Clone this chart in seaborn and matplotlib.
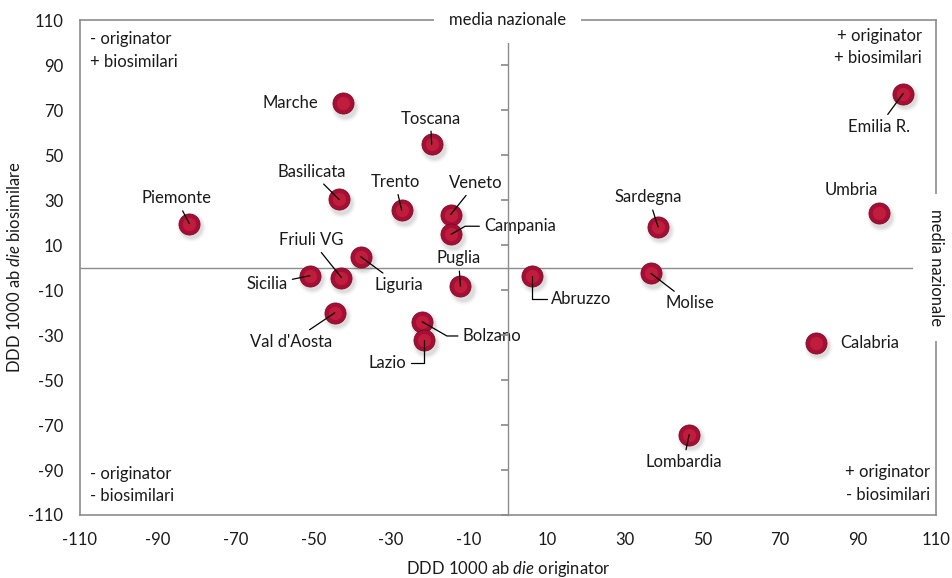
import numpy as np
import pandas as pd
import seaborn as sns
import matplotlib.pyplot as plt
import matplotlib.transforms as mtransforms

# regional values (DDD 1000 ab die, difference from national mean)
regions = ["Marche", "Toscana", "Basilicata", "Trento", "Veneto", "Campania",
           "Piemonte", "Liguria", "Friuli VG", "Sicilia", "Puglia", "Val d'Aosta",
           "Bolzano", "Lazio", "Abruzzo", "Molise", "Sardegna", "Emilia R.",
           "Umbria", "Calabria", "Lombardia"]
originator = [-42.5, -19.6, -43.4, -27.3, -14.7, -14.6, -81.9, -37.8, -42.8, -50.9,
              -12.2, -44.5, -22.0, -21.5, 6.3, 36.8, 38.6, 101.6, 95.4, 79.3, 46.6]
biosimilare = [73.1, 54.9, 30.3, 25.6, 23.6, 14.8, 19.6, 4.8, -4.4, -3.6,
               -8.2, -20.1, -24.1, -32.2, -3.6, -2.6, 18.1, 77.4, 24.1, -33.3, -74.3]

# where each label sits (data units) and how its leader line bends
label_x = [-55.9, -19.9, -50.5, -29.0, -8.2, 3.1, -85.3, -27.9, -50.5, -61.9,
           -12.7, -55.6, -4.1, -31.0, 18.9, 46.8, 36.2, 95.3, 88.3, 93.0, 45.1]
label_y = [73.4, 66.3, 42.6, 38.1, 37.6, 18.4, 30.8, -7.8, 12.2, -7.5,
           4.1, -33.0, -30.4, -42.6, -14.0, -15.9, 31.2, 62.6, 34.7, -33.3, -86.6]
leader = [None, "arc3", "arc3", "arc3", "arc3", "angle,angleA=0,angleB=30,rad=0",
          "arc3", "arc3", "arc3", "arc3", "arc3", "arc3",
          "angle,angleA=0,angleB=-30,rad=0", "angle,angleA=0,angleB=90,rad=0",
          "angle,angleA=0,angleB=90,rad=0", "arc3", "arc3", "arc3", None, None, "arc3"]

ticks = list(range(-110, 111, 20))

df = pd.DataFrame({"regione": regions, "originator": originator,
                   "biosimilare": biosimilare})

sns.set_theme(style="white")
plt.rcParams['font.family'] = ['Lato', 'DejaVu Sans']
plt.rcParams['mathtext.fontset'] = 'custom'
plt.rcParams['mathtext.rm'] = 'Lato'
plt.rcParams['mathtext.it'] = 'Lato:italic'
plt.rcParams['axes.unicode_minus'] = False

fig = plt.figure(figsize=(9.52, 5.78), dpi=100)
ax = fig.add_axes([0.084, 0.109, 0.899, 0.856])
grey = "#8c8c8c"
ink = "#1a1a1a"
fs = 12

# zero line (national mean)
ax.axhline(0, color=grey, lw=1, zorder=1)

# drop shadow under the markers
for s, a in [(420, 0.05), (330, 0.07), (260, 0.09)]:
    shadow = mtransforms.offset_copy(ax.transData, fig=fig, x=1.5, y=-2.5, units='points')
    ax.scatter(df["originator"], df["biosimilare"], s=s, color="#505050", alpha=a,
               linewidths=0, transform=shadow, zorder=2)

sns.scatterplot(data=df, x="originator", y="biosimilare", ax=ax, s=230,
                color="#a50f35", edgecolor="#7d0a26", linewidth=0.6, zorder=3)
ax.scatter(df["originator"], df["biosimilare"], s=90, color="#c8203f",
           linewidths=0, alpha=0.8, zorder=4)

for name, px, py, tx, ty, cs in zip(regions, originator, biosimilare,
                                     label_x, label_y, leader):
    props = None
    if cs is not None:
        props = dict(arrowstyle="-", color="black", lw=0.9, shrinkA=1, shrinkB=0,
                     connectionstyle=cs)
    ax.annotate(name, xy=(px, py), xytext=(tx, ty), ha="center", va="center",
                fontsize=fs, color=ink, arrowprops=props, zorder=5)

ax.set_xlim(-110, 110)
ax.set_ylim(-110, 110)
ax.set_xticks(ticks)
ax.set_yticks(ticks)
ax.tick_params(axis="both", length=0, labelsize=fs, colors=ink)
ax.tick_params(axis="x", pad=12)
ax.tick_params(axis="y", pad=12)

for sp in ax.spines.values():
    sp.set_visible(True)
    sp.set_color(grey)
    sp.set_linewidth(1.2)

# vertical axis through zero, with its tick marks
ax2 = ax.twinx()
ax2.set_ylim(ax.get_ylim())
ax2.set_yticks(ticks)
ax2.spines["right"].set_position(("data", 0))
ax2.spines["right"].set_color(grey)
ax2.spines["right"].set_linewidth(1)
for s in ["left", "top", "bottom"]:
    ax2.spines[s].set_visible(False)
ax2.tick_params(axis="y", direction="in", length=5, color=grey,
                labelright=False, right=True, left=False)
ax2.grid(False)

# labels for the national mean lines (white box hides the frame behind)
wbox = dict(facecolor="white", edgecolor="none", boxstyle="square,pad=0.9")
ax2.text(0, 110, "media nazionale", ha="center", va="center", fontsize=fs,
         bbox=wbox, zorder=6, clip_on=False, color=ink)
ax2.text(110, 0, "media nazionale", ha="center", va="center", rotation=270,
         fontsize=fs, bbox=wbox, zorder=6, clip_on=False, color=ink)

# quadrant notes
qkw = dict(fontsize=fs, color=ink, linespacing=1.5, transform=ax.transAxes)
ax.text(0.012, 0.978, "- originator\n+ biosimilari", ha="left", va="top", **qkw)
ax.text(0.984, 0.985, "+ originator\n+ biosimilari", ha="right", va="top", **qkw)
ax.text(0.012, 0.022, "- originator\n- biosimilari", ha="left", va="bottom", **qkw)
ax.text(0.993, 0.025, "+ originator\n- biosimilari", ha="right", va="bottom", **qkw)

ax.set_xlabel("DDD 1000 ab $\\it{die}$ originator", fontsize=fs, color=ink,
              labelpad=8)
ax.set_ylabel("DDD 1000 ab $\\it{die}$ biosimilare", fontsize=fs, color=ink,
              labelpad=4)
ax.grid(False)

fig.savefig("out.png", dpi=100)
